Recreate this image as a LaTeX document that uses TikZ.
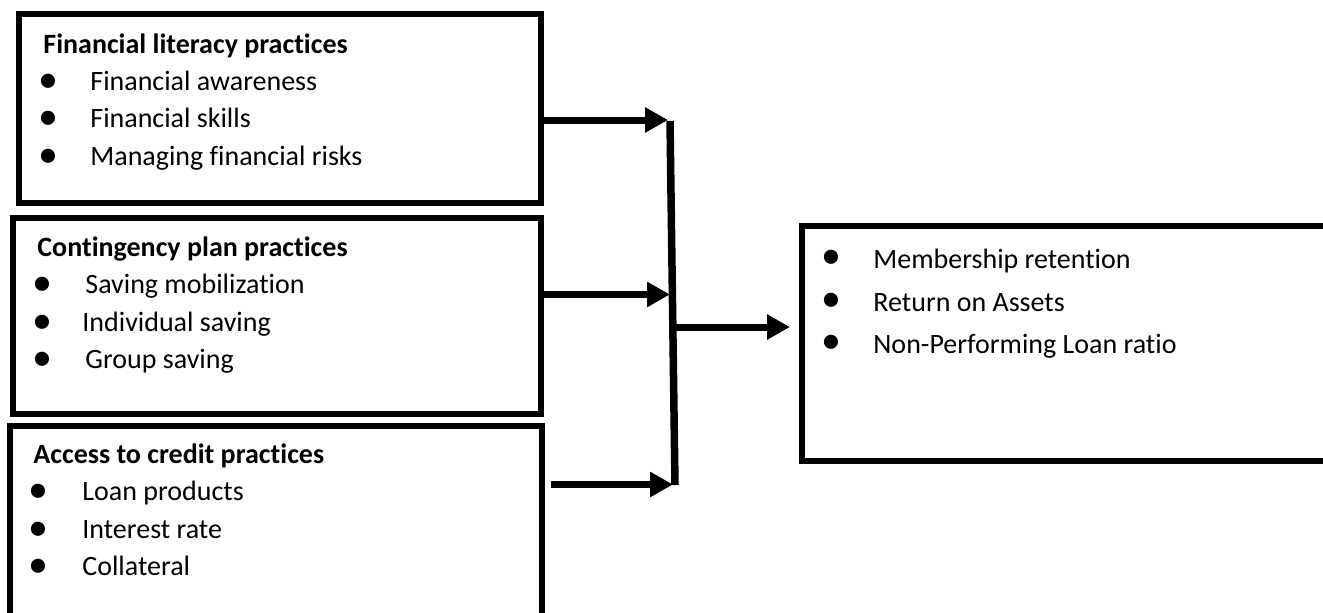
\documentclass[tikz,border=0pt]{standalone}
\usepackage{fontspec}
\setmainfont{Carlito}[Ligatures=NoCommon]
\usetikzlibrary{arrows.meta,fit}
\begin{document}
\begin{tikzpicture}[x=0.5pt,y=-0.5pt,
  box/.style={draw, line width=3pt, inner sep=0pt, rectangle},
  ttl/.style={anchor=base west, inner sep=0pt, font=\fontsize{14pt}{16pt}\selectfont\bfseries},
  itm/.style={anchor=base west, inner sep=0pt, font=\fontsize{14pt}{16pt}\selectfont},
  bl/.style={anchor=center, inner sep=0pt, font=\fontsize{20pt}{20pt}\selectfont},
  arr/.style={line width=3.5pt, -{Triangle[length=11.5pt,width=12pt]}},
  bar/.style={line width=3.75pt}]
\useasboundingbox (0,0) rectangle (1323,612);
\clip (0,0) rectangle (1323,612);
% boxes
\node[box, fit={(19,14) (541,203)}] (b1) {};
\node[box, fit={(13,218) (541,414)}] (b2) {};
\node[box, fit={(10,425.5) (542,700)}] (b3) {};
\node[box, fit={(802,225.5) (1400,461)}] (out) {};
% box 1 text
\node[ttl] (t1) at (43,53) {Financial literacy practices};
\node[bl] (p11) at (48,83) {•};
\node[itm] (i11) at (90,90) {Financial awareness};
\node[bl] (p12) at (48,120.5) {•};
\node[itm] (i12) at (90,127.5) {Financial skills};
\node[bl] (p13) at (48,158) {•};
\node[itm] (i13) at (90,165) {Managing financial risks};
% box 2 text
\node[ttl] (t2) at (37,256) {Contingency plan practices};
\node[bl] (p21) at (42,286.5) {•};
\node[itm] (i21) at (85,293.5) {Saving mobilization};
\node[bl] (p22) at (42,324) {•};
\node[itm] (i22) at (82,331) {Individual saving};
\node[bl] (p23) at (42,361.5) {•};
\node[itm] (i23) at (85,368.5) {Group saving};
% box 3 text
\node[ttl] (t3) at (33,463) {Access to credit practices};
\node[bl] (p31) at (38,493.5) {•};
\node[itm] (i31) at (82,500.5) {Loan products};
\node[bl] (p32) at (38,531) {•};
\node[itm] (i32) at (82,538) {Interest rate};
\node[bl] (p33) at (38,568.5) {•};
\node[itm] (i33) at (82,575.5) {Collateral};
% outcome box text
\node[bl] (q1) at (831,259.5) {•};
\node[itm] (o1) at (873,268.5) {Membership retention};
\node[bl] (q2) at (831,302) {•};
\node[itm] (o2) at (873,311) {Return on Assets};
\node[bl] (q3) at (831,344) {•};
\node[itm] (o3) at (873,353) {Non-Performing Loan ratio};
% joining bar
\coordinate (vtop) at (670,121);
\coordinate (vbot) at (675,485);
\coordinate (j1) at (668,120);
\coordinate (j2) at (670,294.5);
\coordinate (j3) at (673,484.5);
\coordinate (j0) at (673,327);
\draw[bar] (vtop) -- (vbot);
% connectors
\draw[arr] (b1.east |- j1) -- (j1);
\draw[arr] (b2.east |- j2) -- (j2);
\draw[arr] ([xshift=3pt]b3.east |- j3) -- (j3);
\draw[arr] (j0) -- ([xshift=-4.5pt]out.west |- j0);
\end{tikzpicture}
\end{document}
